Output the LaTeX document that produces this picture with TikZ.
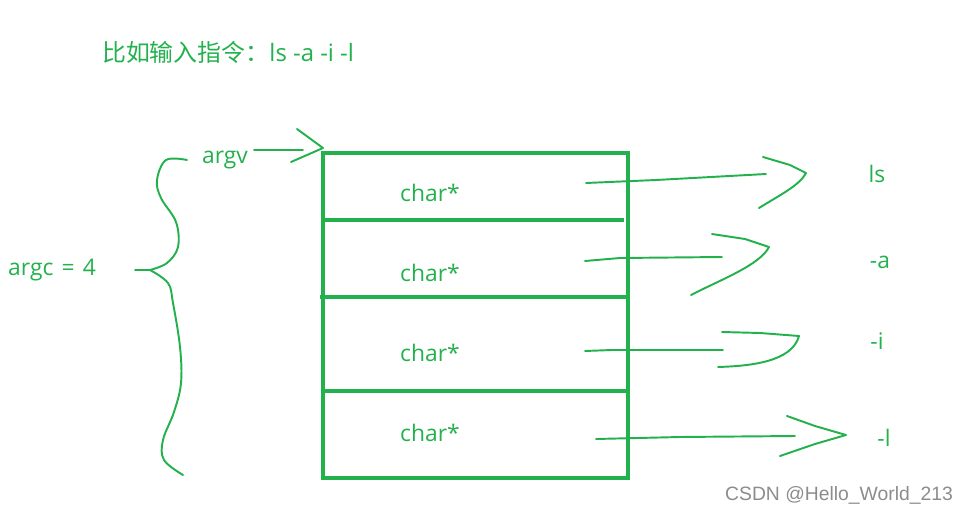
\documentclass[tikz,border=0pt]{standalone}
\usepackage{fontspec}
\setmainfont{Open Sans}
\newfontfamily\cjk{Noto Sans CJK SC}
\newfontfamily\markfont{Liberation Sans}
\usepackage{tikz}
\usetikzlibrary{positioning}
\definecolor{paintgreen}{RGB}{34,177,76}

\begin{document}
\begin{tikzpicture}[x=0.02cm, y=-0.02cm,
    every node/.style={font=\fontsize{13}{15}\selectfont, text=paintgreen},
    pen/.style={paintgreen, line width=1.1pt, line cap=round, line join=round},
    frame/.style={paintgreen, line width=1.9pt}]
  \useasboundingbox (0,0) rectangle (965,514);

  % Titre
  \node[anchor=west, font=\fontsize{13.6}{16}\selectfont] (title) at (96,52) {{\cjk 比如输入指令：}ls -a -i -l};

  % Tableau argv
  \draw[frame] (323,153) rectangle (628,478);
  \draw[frame] (323,220) -- (624,220);
  \draw[frame] (320,297) -- (628,297);
  \draw[frame] (323,391) -- (628,391);

  \node (c1) at (430,193) {char*};
  \node (c2) at (430,273) {char*};
  \node (c3) at (430,353) {char*};
  \node (c4) at (430,433) {char*};

  % Chaines pointees
  \node (ls) at (877,174) {ls};
  \node (a) at (880,262) {-a};
  \node (i) at (877,341) {-i};
  \node (l) at (884,438) {-l};

  \coordinate (p1) at (586,183);
  \coordinate (t1) at (806,173);
  \coordinate (p2) at (585,261);
  \coordinate (t2) at (769,247);
  \coordinate (p3) at (585,351);
  \coordinate (t3) at (799,336);
  \coordinate (p4) at (596,439);
  \coordinate (t4) at (846,435);

  \draw[pen] (p1) -- (656,180) -- (766,174);
  \draw[pen] (763,157) -- (790,165) -- (t1) .. controls (800,185) and (780,195) .. (759,208);
  \draw[pen] (p2) -- (620,258) -- (722,257);
  \draw[pen] (712,234) -- (745,239) -- (t2) .. controls (760,265) and (720,280) .. (691,295);
  \draw[pen] (p3) -- (612,350) -- (723,350);
  \draw[pen] (722,332) -- (760,333) -- (t3) .. controls (792,362) and (750,366) .. (718,367);
  \draw[pen] (p4) -- (680,437) -- (795,436);
  \draw[pen] (787,416) -- (815,426) -- (t4) -- (815,444) -- (780,456);

  % argv
  \node (argv) at (225,160) {argv};
  \coordinate (v1) at (323,148);
  \draw[pen] (254,150) -- (303,150);
  \draw[pen] (297,129) -- (v1) -- (291,162);

  % Accolade argc
  \node[anchor=west] (argc) at (2,270) {argc\hspace{0.1em} =\hspace{0.1em} 4};
  \draw[pen] plot[smooth, tension=0.6] coordinates {(187,160) (166,160) (157,180) (161,198) (176,222) (178,247) (167,263) (150,270)};
  \draw[pen] (135,270) -- (152,270);
  \draw[pen] plot[smooth, tension=0.6] coordinates {(150,270) (168,283) (173,303) (180,347) (181,383) (174,412) (163,440) (164,460) (183,475)};

  % Filigrane
  \node[text=black!45, font=\markfont\fontsize{11}{13}\selectfont] (mark) at (839,495) {CSDN @Hello\_World\_213};
\end{tikzpicture}
\end{document}
